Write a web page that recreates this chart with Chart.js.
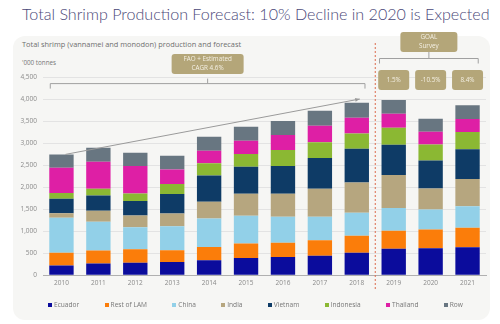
<!DOCTYPE html>
<html>
<head>
<meta charset="utf-8">
<script src="https://cdn.jsdelivr.net/npm/chart.js@4/dist/chart.umd.min.js"></script>
<style>
  body { margin: 0; background: #fff; }
  #wrap { position: relative; width: 500px; height: 324px; overflow: hidden; font-family: 'Open Sans', sans-serif; }
  .panel { position: absolute; left: 13px; top: 36px; width: 477px; height: 284px; background: #f6f6f4; border-radius: 12px; }
  .title { position: absolute; left: 22px; top: 4px; font-family: Lato, sans-serif; font-weight: 300; font-size: 16.1px; color: #4a4878; white-space: nowrap; }
  .sub { position: absolute; left: 22px; top: 39px; font-size: 7.4px; color: #6f6f6f; white-space: nowrap; }
  .unit { position: absolute; left: 22px; top: 58px; font-size: 6.3px; color: #777; white-space: nowrap; }
  canvas { position: absolute; left: 0; top: 0; }
  #legend { position: absolute; left: 48px; width: 415px; top: 300px; display: flex; justify-content: space-between; font-size: 6.6px; color: #777; }
  #legend span { display: flex; align-items: center; white-space: nowrap; }
  #legend i { display: inline-block; width: 4px; height: 4px; margin-right: 2px; }
</style>
</head>
<body>
<div id="wrap">
  <div class="panel"></div>
  <div class="title">Total Shrimp Production Forecast:  10% Decline in 2020 is Expected</div>
  <div class="sub">Total shrimp (vannamei and monodon) production and forecast</div>
  <div class="unit">'000 tonnes</div>
  <canvas id="chart" width="500" height="324"></canvas>
  <div id="legend"></div>
</div>
<script>
const years = ['2010', '2011', '2012', '2013', '2014', '2015', '2016', '2017', '2018', '2019', '2020', '2021'];

// thousand tonnes, bottom of the stack first
const ecuador   = [220, 266, 280, 302, 341, 393, 416, 439, 507, 598, 614, 636];
const restOfLam = [287, 295, 311, 266, 302, 327, 318, 356, 386, 409, 425, 439];
const china     = [795, 650, 500, 546, 646, 628, 591, 530, 523, 516, 454, 493];
const india     = [107, 250, 266, 288, 377, 500, 523, 636, 691, 750, 477, 614];
const vietnam   = [325, 350, 325, 439, 600, 613, 629, 698, 763, 688, 637, 675];
const indonesia = [130, 150, 175, 227, 273, 289, 364, 357, 350, 387, 363, 393];
const thailand  = [575, 614, 620, 334, 286, 302, 341, 377, 355, 318, 287, 295];
const row       = [304, 318, 303, 309, 318, 318, 318, 341, 341, 311, 295, 312];

const yTicks = [0, 500, 1000, 1500, 2000, 2500, 3000, 3500, 4000, 4500];

const faoLabel = ['FAO + Estimated', 'CAGR 4.6%'];
const goalLabel = ['GOAL', 'Survey'];
const forecastGrowth = ['1.5%', '-10.5%', '8.4%'];
const firstForecast = 9;      // index of 2019
const trendEndValue = 4000;   // where the CAGR arrow ends above 2018

const series = [
  ['Ecuador', ecuador, '#0b0c9c'],
  ['Rest of LAM', restOfLam, '#fb7d0a'],
  ['China', china, '#92d0e8'],
  ['India', india, '#b6a67f'],
  ['Vietnam', vietnam, '#0e3b66'],
  ['Indonesia', indonesia, '#8bb833'],
  ['Thailand', thailand, '#de1fa5'],
  ['Row', row, '#687681']
];

const totals = years.map((_, i) => series.reduce((s, d) => s + d[1][i], 0));

const khaki = '#b4a679';

function tag(ctx, cx, top, w, h, lines) {
  ctx.fillStyle = khaki;
  ctx.beginPath();
  ctx.roundRect(cx - w / 2, top, w, h, 3);
  ctx.fill();
  ctx.fillStyle = '#f4f0e4';
  ctx.font = '6.3px "Open Sans", sans-serif';
  ctx.textAlign = 'center';
  ctx.textBaseline = 'middle';
  const step = 9;
  const first = top + h / 2 - (lines.length - 1) * step / 2;
  lines.forEach((t, i) => ctx.fillText(t, cx, first + i * step));
}

const notes = {
  id: 'notes',
  afterDatasetsDraw(chart) {
    const { ctx, scales: { x, y } } = chart;
    const bw = chart.getDatasetMeta(0).data[0].width;
    ctx.save();

    // CAGR trend arrow
    const x1 = x.getPixelForValue(0) + 4, y1 = y.getPixelForValue(totals[0]);
    const x2 = x.getPixelForValue(8) + 3, y2 = y.getPixelForValue(trendEndValue);
    ctx.strokeStyle = '#9a9a9a';
    ctx.fillStyle = '#9a9a9a';
    ctx.lineWidth = 1;
    ctx.beginPath();
    ctx.moveTo(x1, y1);
    ctx.lineTo(x2, y2);
    ctx.stroke();
    const ang = Math.atan2(y2 - y1, x2 - x1);
    ctx.beginPath();
    ctx.moveTo(x2, y2);
    ctx.lineTo(x2 - 5 * Math.cos(ang - 0.4), y2 - 5 * Math.sin(ang - 0.4));
    ctx.lineTo(x2 - 5 * Math.cos(ang + 0.4), y2 - 5 * Math.sin(ang + 0.4));
    ctx.closePath();
    ctx.fill();

    // bracket over the historical years
    const bTop = y.getPixelForValue(4350);
    const bl = x.getPixelForValue(0) - bw / 2 + 1;
    const br = x.getPixelForValue(8) + bw / 2 - 4;
    ctx.strokeStyle = '#a0a0a0';
    ctx.beginPath();
    ctx.moveTo(bl, bTop + 5); ctx.lineTo(bl, bTop); ctx.lineTo(br, bTop); ctx.lineTo(br, bTop + 5);
    ctx.stroke();
    const fc = (bl + br) / 2;
    ctx.beginPath();
    ctx.moveTo(fc, bTop - 5); ctx.lineTo(fc, bTop);
    ctx.stroke();
    tag(ctx, fc, 54, 72, 20, faoLabel);

    // separator between actuals and forecast
    const sx = (x.getPixelForValue(8) + x.getPixelForValue(9)) / 2;
    ctx.strokeStyle = '#dc6b4c';
    ctx.setLineDash([2, 2]);
    ctx.beginPath();
    ctx.moveTo(sx, 43); ctx.lineTo(sx, 290);
    ctx.stroke();
    ctx.setLineDash([]);

    // forecast bracket and growth tags
    const gl = x.getPixelForValue(firstForecast) - bw / 2 - 2;
    const gr = x.getPixelForValue(years.length - 1) + bw / 2 - 1.5;
    const gTop = 58.5;
    ctx.strokeStyle = '#a0a0a0';
    ctx.beginPath();
    ctx.moveTo(gl, gTop + 5); ctx.lineTo(gl, gTop); ctx.lineTo(gr, gTop); ctx.lineTo(gr, gTop + 5);
    ctx.stroke();
    const gc = (gl + gr) / 2;
    ctx.beginPath();
    ctx.moveTo(gc, 52); ctx.lineTo(gc, gTop);
    ctx.stroke();
    tag(ctx, gc, 32, 57, 20, goalLabel);
    forecastGrowth.forEach((t, i) => {
      tag(ctx, x.getPixelForValue(firstForecast + i), 70, 31, 20, [t]);
    });

    ctx.restore();
  }
};

Chart.defaults.font.family = "'Open Sans', sans-serif";
Chart.defaults.font.size = 6.5;
Chart.defaults.color = '#8a8a8a';

const chart = new Chart(document.getElementById('chart'), {
  type: 'bar',
  data: {
    labels: years,
    datasets: series.map(([label, data, color]) => ({
      label,
      data,
      backgroundColor: color,
      borderWidth: 0,
      barPercentage: 0.66,
      categoryPercentage: 1
    }))
  },
  options: {
    responsive: false,
    animation: false,
    devicePixelRatio: 1,
    layout: { padding: { left: 0, right: 14, top: 77, bottom: 33 } },
    scales: {
      x: {
        stacked: true,
        grid: { display: false, drawTicks: false },
        border: { color: '#b0b0b0' },
        ticks: { padding: 4, color: '#8a8a8a' }
      },
      y: {
        stacked: true,
        min: 0,
        max: 4500,
        afterBuildTicks(axis) { axis.ticks = yTicks.map(v => ({ value: v })); },
        afterFit(axis) { axis.width = 43; },
        grid: { color: '#e3e3e3', drawTicks: false },
        border: { display: false },
        ticks: {
          padding: 6,
          color: '#8a8a8a',
          callback: v => v.toLocaleString('en-US')
        }
      }
    },
    plugins: {
      legend: { display: false },
      tooltip: { enabled: false }
    }
  },
  plugins: [notes]
});

// legend row under the axis
const legend = document.getElementById('legend');
chart.data.datasets.forEach(ds => {
  const item = document.createElement('span');
  const box = document.createElement('i');
  box.style.background = ds.backgroundColor;
  item.appendChild(box);
  item.appendChild(document.createTextNode(ds.label));
  legend.appendChild(item);
});
</script>
</body>
</html>
